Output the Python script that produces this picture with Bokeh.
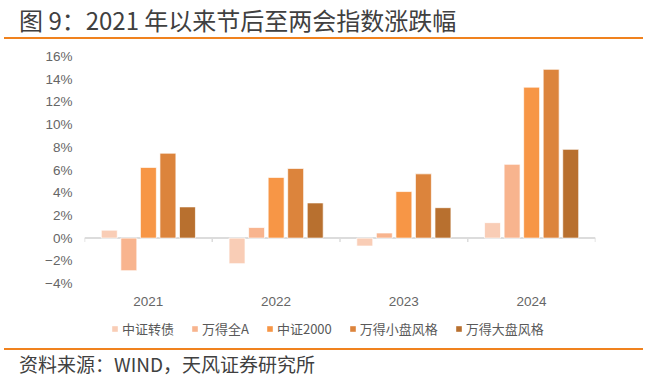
from bokeh.plotting import figure
from bokeh.layouts import column
from bokeh.models import (ColumnDataSource, Range1d, FixedTicker, Span,
                          Legend, LegendItem, Div)
from bokeh.embed import file_html
from bokeh.resources import INLINE

years = ["2021", "2022", "2023", "2024"]
series_names = ["中证转债", "万得全A", "中证2000", "万得小盘风格", "万得大盘风格"]
cb = [0.70, -2.25, -0.70, 1.36]
wind_a = [-2.87, 0.93, 0.45, 6.50]
csi2000 = [6.23, 5.35, 4.10, 13.30]
small_cap = [7.48, 6.14, 5.66, 14.87]
large_cap = [2.75, 3.10, 2.68, 7.82]
y_ticks = [-4, -2, 0, 2, 4, 6, 8, 10, 12, 14, 16]
title_text = "图 9：2021 年以来节后至两会指数涨跌幅"
source_text = "资料来源：WIND，天风证券研究所"

series = [cb, wind_a, csi2000, small_cap, large_cap]
colors = ["#F9CDB6", "#F8B48E", "#F79646", "#DC843C", "#B8702F"]
offsets = [-0.306, -0.153, 0.0, 0.153, 0.306]

W = 653
TOP_H, MAIN_H, LEG_H = 45, 263, 40
BOT_H = 391 - TOP_H - MAIN_H - LEG_H
ORANGE = "#F0821E"
font_lat = "Liberation Sans"
font_cjk = "Noto Sans CJK SC"

header = Div(
    width=W, height=TOP_H, styles={"margin": "0", "padding": "0"},
    text=(f'<div style="position:relative;width:{W}px;height:{TOP_H}px;">'
          f'<div style="position:absolute;left:19px;top:5px;font-family:\'{font_cjk}\';'
          f'font-size:24px;line-height:30px;color:#404040;white-space:nowrap;">{title_text}</div>'
          f'<div style="position:absolute;left:4px;top:37px;width:639px;height:2px;'
          f'background:{ORANGE};"></div></div>'))

footer = Div(
    width=W, height=BOT_H, styles={"margin": "0", "padding": "0"},
    text=(f'<div style="position:relative;width:{W}px;height:{BOT_H}px;">'
          f'<div style="position:absolute;left:4px;top:0px;width:639px;height:2px;'
          f'background:{ORANGE};"></div>'
          f'<div style="position:absolute;left:19px;top:3px;font-family:\'{font_cjk}\';'
          f'font-size:19px;line-height:26px;color:#404040;white-space:nowrap;">{source_text}</div>'
          f'</div>'))

# --- main chart
p = figure(width=W, height=MAIN_H, output_backend="svg", toolbar_location=None,
           x_range=Range1d(0, 4), y_range=Range1d(-4, 16),
           min_border_left=84, min_border_right=58,
           min_border_top=11, min_border_bottom=MAIN_H - 11 - 228)
p.outline_line_color = None
p.background_fill_color = "white"
p.border_fill_color = "white"
p.xgrid.visible = False
p.ygrid.visible = False

zero = Span(location=0, dimension="width", line_color="#DCDCDC", line_width=2,
            level="underlay")
p.add_layout(zero)

centers = [i + 0.5 for i in range(len(years))]
bounds = list(range(len(years) + 1))
p.segment(x0=bounds, x1=bounds, y0=[0] * len(bounds), y1=[-0.35] * len(bounds),
          line_color="#DCDCDC", line_width=1.5)

for name, vals, col, off in zip(series_names, series, colors, offsets):
    src = ColumnDataSource(dict(x=[c + off for c in centers], top=vals))
    p.vbar(x="x", top="top", bottom=0, width=0.125, source=src,
           fill_color=col, line_color="white", line_alpha=0.7, line_width=1)

for ax in (p.yaxis, p.xaxis):
    ax.axis_line_color = None
    ax.major_tick_line_color = None
    ax.minor_tick_line_color = None
    ax.major_tick_out = 0
    ax.major_tick_in = 0
    ax.minor_tick_out = 0
    ax.major_label_text_font = font_lat
    ax.major_label_text_font_size = "13.5px"
    ax.major_label_text_color = "#666666"

p.yaxis.ticker = FixedTicker(ticks=y_ticks)
p.yaxis.major_label_overrides = {t: (f"{t}%" if t >= 0 else f"\u2212{-t}%") for t in y_ticks}
p.yaxis.major_label_standoff = 12

p.xaxis.ticker = FixedTicker(ticks=centers)
p.xaxis.major_label_overrides = {c: y for c, y in zip(centers, years)}
p.xaxis.major_label_standoff = 13

# --- legend strip (same series colours; placeholder marks lie outside the visible ranges)
lg = figure(width=W, height=LEG_H, output_backend="svg", toolbar_location=None,
            x_range=Range1d(0, 4), y_range=Range1d(0, 1),
            x_axis_type=None, y_axis_type=None,
            min_border_left=84, min_border_right=58, min_border_top=0, min_border_bottom=0)
lg.outline_line_color = None
lg.xgrid.visible = False
lg.ygrid.visible = False
lg.background_fill_color = "white"
lg.border_fill_color = "white"
items = []
for name, col in zip(series_names, colors):
    r = lg.vbar(x=[2], top=[-9], bottom=[-10], width=0.125,
                fill_color=col, line_color=None)
    items.append(LegendItem(label=name, renderers=[r]))
legend = Legend(items=items, orientation="horizontal", location=(27, 10),
                glyph_width=7, glyph_height=7, label_standoff=4, spacing=17,
                padding=2, margin=0, border_line_color=None,
                background_fill_alpha=0,
                label_text_font=font_cjk, label_text_font_size="13px",
                label_text_color="#595959")
lg.add_layout(legend, "center")

layout = column(header, p, lg, footer, spacing=0)
open("out.html", "w").write(file_html(layout, INLINE))
